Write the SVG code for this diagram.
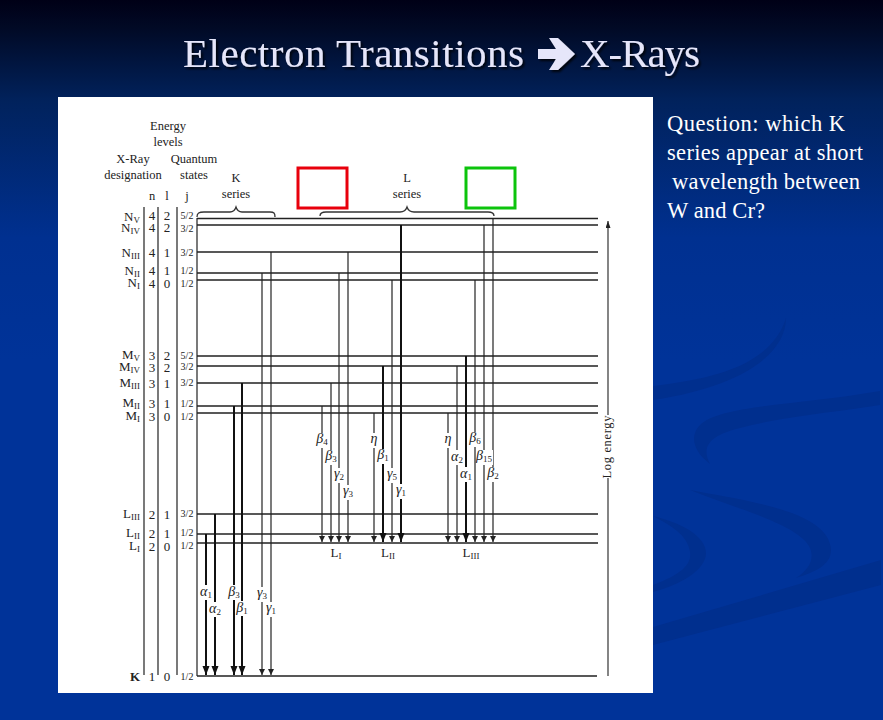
<svg xmlns="http://www.w3.org/2000/svg" width="883" height="720" viewBox="0 0 883 720">
<style>
.t{font-family:"Liberation Serif","Times New Roman",serif;fill:#222;font-size:12.5px}
.r{font-family:"Liberation Serif","Times New Roman",serif;fill:#222;font-size:13px;text-anchor:end}
.n{font-family:"Liberation Serif","Times New Roman",serif;fill:#222;font-size:13px;text-anchor:middle}
.m{text-anchor:middle}
.s{font-size:9px;font-style:normal}
.f{font-family:"Liberation Serif","Times New Roman",serif;fill:#222;font-size:10px;text-anchor:middle}
.g{font-family:"Liberation Serif","Times New Roman",serif;font-style:italic;font-size:14px;fill:#222;text-anchor:middle}
.lv{stroke:#222;stroke-width:1.4;fill:none}
.ax{stroke:#333;stroke-width:1.3;fill:none}
.a1{stroke:#222;stroke-width:1.200;fill:none;marker-end:url(#ah)}
.a2{stroke:#111;stroke-width:2;fill:none;marker-end:url(#ahb)}
.lb{fill:#fff}
.q{font-family:"Liberation Serif","Times New Roman",serif;font-size:22.5px;fill:#fff}
.ti{font-family:"Liberation Serif","Times New Roman",serif;font-size:41px;fill:#e6e6fa}
.b{fill:none;stroke-width:3}
.sw{fill:#002f8e}
</style>
<defs>
<linearGradient id="bg" x1="0" y1="0" x2="0" y2="1">
<stop offset="0" stop-color="#000016"/>
<stop offset="0.04" stop-color="#010a26"/>
<stop offset="0.14" stop-color="#01225c"/>
<stop offset="0.33" stop-color="#003090"/>
<stop offset="0.5" stop-color="#003399"/>
<stop offset="1" stop-color="#003399"/>
</linearGradient>
<marker id="ah" markerUnits="userSpaceOnUse" markerWidth="6" markerHeight="9" refX="6" refY="3" orient="auto"><path d="M0 0L6 3L0 6z" fill="#222"/></marker>
<marker id="ahb" markerUnits="userSpaceOnUse" markerWidth="10" markerHeight="9" refX="9" refY="3.500" orient="auto"><path d="M0 0L9 3.500L0 7z" fill="#111"/></marker>
<marker id="up" markerUnits="userSpaceOnUse" markerWidth="8" markerHeight="8" refX="7" refY="2.500" orient="auto"><path d="M0 0L7 2.500L0 5z" fill="#222"/></marker>
<filter id="sh" x="-5%" y="-20%" width="110%" height="140%"><feDropShadow dx="2" dy="2" stdDeviation="1" flood-color="#000" flood-opacity="0.8"/></filter>
</defs>
<rect id="background" width="883" height="720" fill="url(#bg)"/>
<g id="swirl" class="sw">
<path d="M653 386C700 380 770 370 786 318C786 350 750 385 653 400z"/>
<path d="M880 391C800 405 720 405 700 425C690 435 692 450 710 464C700 445 712 435 740 428C790 415 840 412 880 405z"/>
<path d="M690 490C740 500 830 510 831 550C831 565 815 572 796 578C808 570 815 560 810 548C800 525 740 510 690 490z"/>
<path d="M653 516C690 525 706 540 706 553C706 570 680 585 653 592V585C680 575 692 565 690 552C688 535 670 525 653 516z"/>
<path d="M653 627L881 560V585L653 645z"/>
</g>
<g id="title" filter="url(#sh)">
<text class="ti" x="183" y="67" textLength="341">Electron Transitions</text>
<path d="M538 49h18l-7-11h9l17 16-17 16h-9l7-11h-18z" fill="#e6e6fa"/>
<text class="ti" x="580" y="67" textLength="120">X-Rays</text>
</g>
<rect id="panel" x="58" y="97" width="595" height="596" fill="#fff"/>
<g id="question"><text class="q" x="667" y="131" textLength="178">Question: which K</text><text class="q" x="667" y="160" textLength="196">series appear at short</text><text class="q" x="672" y="189" textLength="188">wavelength between</text><text class="q" x="667" y="218" textLength="98">W and Cr?</text></g>
<g id="headers">
<text class="t m" x="168" y="130">Energy</text><text class="t m" x="168" y="146">levels</text>
<text class="t m" x="133" y="163">X-Ray</text><text class="t m" x="133" y="179">designation</text>
<text class="t m" x="194" y="163">Quantum</text><text class="t m" x="194" y="179">states</text>
<text class="t m" x="236" y="182">K</text><text class="t m" x="236" y="198">series</text>
<text class="t m" x="407" y="182">L</text><text class="t m" x="407" y="198">series</text>
<text class="t m" x="152" y="200">n</text><text class="t m" x="167" y="200">l</text><text class="t m" x="187" y="200">j</text>
</g>
<g id="connectors">
<path class="ax" d="M144 207V675M158 207V675M177 207V675M197 218V676"/>
<path id="levels" class="lv" d="M197 218.500H598M197 225H598M197 252H598M197 273H598M197 280H598M197 356H598M197 366H598M197 383H598M197 406H598M197 413H598M197 514H598M197 534H598M197 543H598M197 676H597"/>
<path class="ax" d="M197 217C197 213 199 212 204 212H230C234 212 235 210 236 207C237 210 238 212 242 212H270C274 212 275 213 275 217"/>
<path class="ax" d="M320 216C320 213 322 212 326 212H400C404 212 406 210 407 207C408 210 410 212 414 212H488C492 212 494 213 494 216"/>
<path class="a2" d="M206 534V675"/><path class="a2" d="M215 514V675"/><path class="a2" d="M234 406V675"/><path class="a2" d="M242 383V675"/>
<path class="a1" d="M262 273V675"/><path class="a1" d="M271 252V675"/>
<path class="a1" d="M322 406V542"/><path class="a1" d="M331 383V542"/><path class="a1" d="M339 273V542"/><path class="a1" d="M348 252V542"/>
<path class="a1" d="M374 413V542"/><path class="a2" d="M383 366V542"/><path class="a1" d="M392 280V542"/><path class="a2" d="M401 225V542"/>
<path class="a1" d="M448 413V542"/><path class="a1" d="M457 366V542"/><path class="a2" d="M466 356V542"/><path class="a1" d="M475 280V542"/><path class="a1" d="M484 225V542"/><path class="a1" d="M493 218V542"/>
<path d="M608 676V221" stroke="#333" stroke-width="1.200" fill="none" marker-end="url(#up)"/>
</g>
<g id="row-labels">
<text class="r" x="140" y="221">N<tspan class="s" dy="2">V</tspan></text>
<text class="r" x="140" y="232">N<tspan class="s" dy="2">IV</tspan></text>
<text class="r" x="140" y="257">N<tspan class="s" dy="2">III</tspan></text>
<text class="r" x="140" y="275">N<tspan class="s" dy="2">II</tspan></text>
<text class="r" x="140" y="287">N<tspan class="s" dy="2">I</tspan></text>
<text class="r" x="140" y="359">M<tspan class="s" dy="2">V</tspan></text>
<text class="r" x="140" y="371">M<tspan class="s" dy="2">IV</tspan></text>
<text class="r" x="140" y="387">M<tspan class="s" dy="2">III</tspan></text>
<text class="r" x="140" y="407">M<tspan class="s" dy="2">II</tspan></text>
<text class="r" x="140" y="420">M<tspan class="s" dy="2">I</tspan></text>
<text class="r" x="140" y="518">L<tspan class="s" dy="2">III</tspan></text>
<text class="r" x="140" y="537">L<tspan class="s" dy="2">II</tspan></text>
<text class="r" x="140" y="550">L<tspan class="s" dy="2">I</tspan></text>
<text class="r" x="140" y="681" style="font-weight:bold">K</text>
</g>
<g id="quantum-numbers">
<g class="n"><text x="152" y="220">4</text><text x="167" y="220">2</text><text x="152" y="232">4</text><text x="167" y="232">2</text><text x="152" y="257">4</text><text x="167" y="257">1</text><text x="152" y="275">4</text><text x="167" y="275">1</text><text x="152" y="288">4</text><text x="167" y="288">0</text>
<text x="152" y="360">3</text><text x="167" y="360">2</text><text x="152" y="372">3</text><text x="167" y="372">2</text><text x="152" y="388">3</text><text x="167" y="388">1</text><text x="152" y="408">3</text><text x="167" y="408">1</text><text x="152" y="421">3</text><text x="167" y="421">0</text>
<text x="152" y="519">2</text><text x="167" y="519">1</text><text x="152" y="538">2</text><text x="167" y="538">1</text><text x="152" y="551">2</text><text x="167" y="551">0</text>
<text x="152" y="681">1</text><text x="167" y="681">0</text></g>
<g class="f"><text x="187" y="219">5/2</text><text x="187" y="232">3/2</text><text x="187" y="256">3/2</text><text x="187" y="274">1/2</text><text x="187" y="287">1/2</text><text x="187" y="359">5/2</text><text x="187" y="370">3/2</text><text x="187" y="386">3/2</text><text x="187" y="407">1/2</text><text x="187" y="420">1/2</text><text x="187" y="517">3/2</text><text x="187" y="536">1/2</text><text x="187" y="549">1/2</text><text x="187" y="680">1/2</text></g>
</g>
<g id="transition-labels">
<g class="lb"><rect x="199" y="585" width="14" height="15"/><rect x="208" y="602" width="14" height="15"/><rect x="227" y="585" width="14" height="15"/><rect x="235" y="601" width="14" height="15"/><rect x="255" y="587" width="14" height="15"/><rect x="264" y="602" width="14" height="15"/>
<rect x="315" y="433" width="14" height="15"/><rect x="324" y="450" width="14" height="15"/><rect x="332" y="468" width="14" height="15"/><rect x="341" y="485" width="14" height="15"/><rect x="367" y="433" width="14" height="15"/><rect x="376" y="449" width="14" height="15"/><rect x="385" y="468" width="14" height="15"/><rect x="394" y="484" width="14" height="15"/><rect x="441" y="433" width="14" height="15"/><rect x="450" y="450" width="14" height="15"/><rect x="459" y="467" width="14" height="15"/><rect x="468" y="432" width="14" height="15"/><rect x="476" y="450" width="17" height="15"/><rect x="486" y="467" width="14" height="15"/><rect x="601" y="415" width="14" height="63"/></g>
<text class="g" x="206" y="596">α<tspan class="s" dy="2">1</tspan></text><text class="g" x="215" y="613">α<tspan class="s" dy="2">2</tspan></text><text class="g" x="234" y="596">β<tspan class="s" dy="2">3</tspan></text><text class="g" x="242" y="612">β<tspan class="s" dy="2">1</tspan></text><text class="g" x="262" y="597">γ<tspan class="s" dy="2">3</tspan></text><text class="g" x="271" y="612">γ<tspan class="s" dy="2">1</tspan></text>
<text class="g" x="322" y="443">β<tspan class="s" dy="2">4</tspan></text><text class="g" x="331" y="460">β<tspan class="s" dy="2">3</tspan></text><text class="g" x="339" y="478">γ<tspan class="s" dy="2">2</tspan></text><text class="g" x="348" y="495">γ<tspan class="s" dy="2">3</tspan></text>
<text class="g" x="374" y="443">η</text><text class="g" x="383" y="459">β<tspan class="s" dy="2">1</tspan></text><text class="g" x="392" y="478">γ<tspan class="s" dy="2">5</tspan></text><text class="g" x="401" y="494">γ<tspan class="s" dy="2">1</tspan></text>
<text class="g" x="448" y="443">η</text><text class="g" x="457" y="461">α<tspan class="s" dy="2">2</tspan></text><text class="g" x="466" y="478">α<tspan class="s" dy="2">1</tspan></text><text class="g" x="475" y="442">β<tspan class="s" dy="2">6</tspan></text><text class="g" x="484" y="460">β<tspan class="s" dy="2">15</tspan></text><text class="g" x="493" y="477">β<tspan class="s" dy="2">2</tspan></text>
<text class="n" x="336" y="557">L<tspan class="s" dy="2">I</tspan></text><text class="n" x="388" y="557">L<tspan class="s" dy="2">II</tspan></text><text class="n" x="471" y="557">L<tspan class="s" dy="2">III</tspan></text>
<text class="t m" transform="translate(611 447) rotate(-90)" textLength="63">Log energy</text>
</g>
<rect id="red-box" class="b" x="298" y="168" width="49" height="40" stroke="#e8000c"/>
<rect id="green-box" class="b" x="466" y="168" width="49" height="40" stroke="#0cc40c"/>
</svg>
